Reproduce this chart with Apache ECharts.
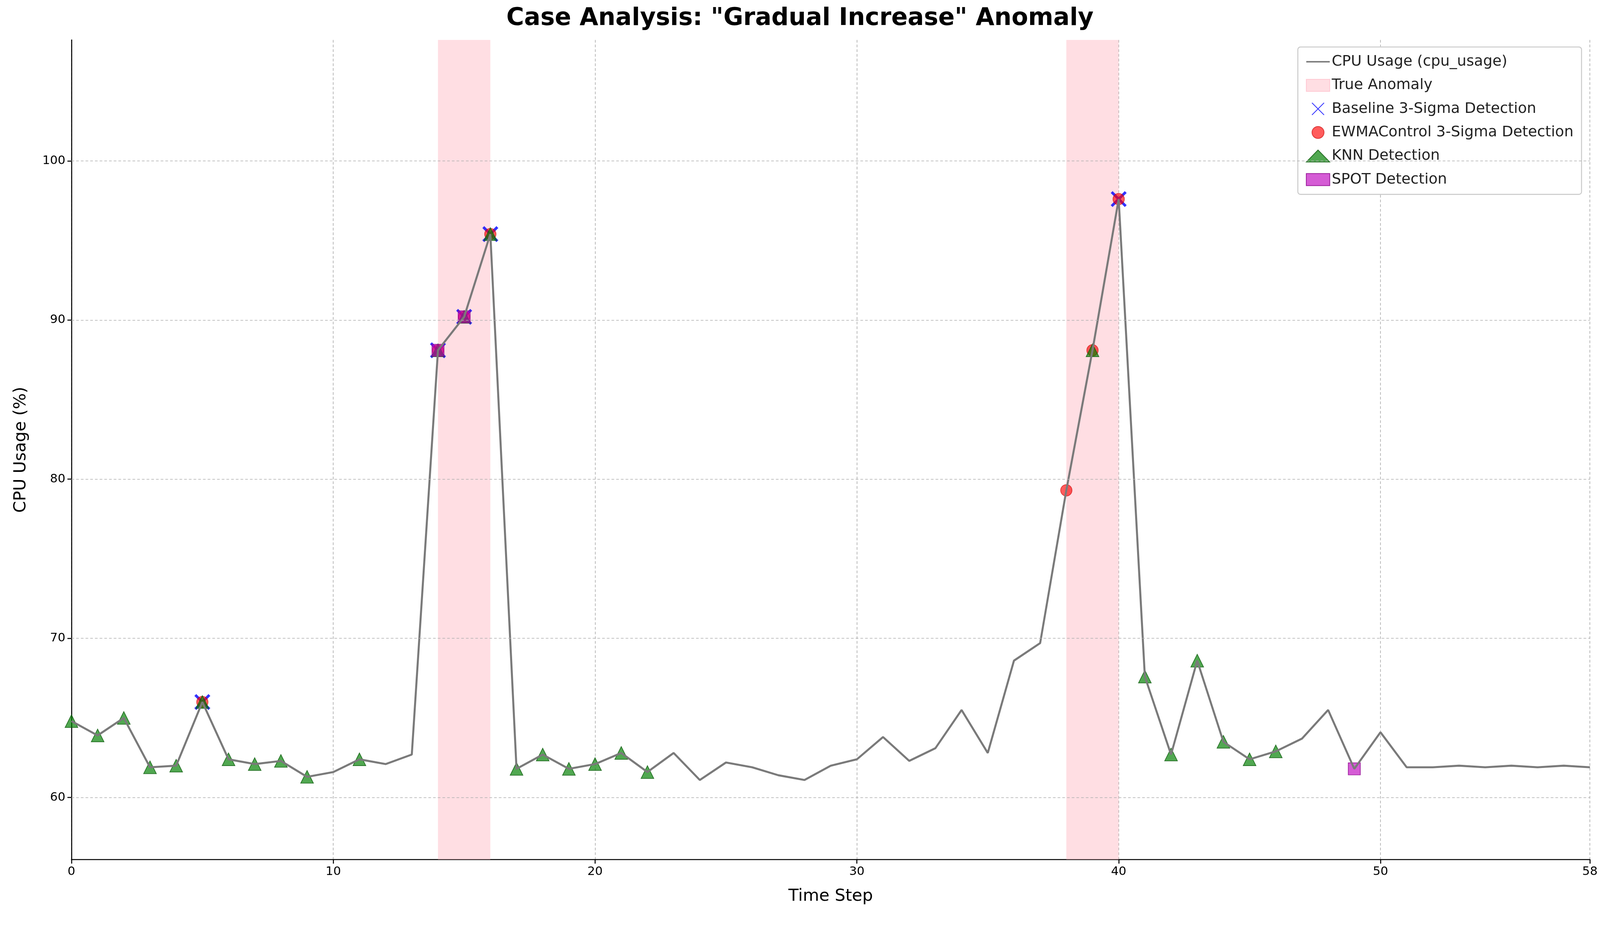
<!DOCTYPE html>
<html><head><meta charset="utf-8">
<script src="https://cdn.jsdelivr.net/npm/echarts@6/dist/echarts.min.js"></script>
<style>html,body{margin:0;padding:0;background:#fff;overflow:hidden}#c{width:100vw;height:100vh}</style>
</head><body><div id="c"></div>
<script>
var cpuUsage = [64.8, 63.9, 65.0, 61.9, 62.0, 66.0, 62.4, 62.1, 62.3, 61.3,
  61.6, 62.4, 62.1, 62.7, 88.1, 90.2, 95.4, 61.8, 62.7, 61.8,
  62.1, 62.8, 61.6, 62.8, 61.1, 62.2, 61.9, 61.4, 61.1, 62.0,
  62.4, 63.8, 62.3, 63.1, 65.5, 62.8, 68.6, 69.7, 79.3, 88.1,
  97.6, 67.6, 62.7, 68.6, 63.5, 62.4, 62.9, 63.7, 65.5, 61.8,
  64.1, 61.9, 61.9, 62.0, 61.9, 62.0, 61.9, 62.0, 61.9];
var anomalyRanges = [[14, 16], [38, 40]];
var baselineIdx = [5, 14, 15, 16, 40];
var ewmaIdx = [5, 14, 15, 16, 38, 39, 40];
var knnIdx = [0, 1, 2, 3, 4, 5, 6, 7, 8, 9, 11, 14, 15, 16, 17, 18, 19, 20, 21, 22, 39, 41, 42, 43, 44, 45, 46];
var spotIdx = [14, 15, 49];
var yTicks = [60, 70, 80, 90, 100];

function pts(idx) {
    return idx.map(function (i) { return [i, cpuUsage[i]]; });
}

var el = document.getElementById('c');
var s = el.clientWidth / 4770;
function p(v) { return v * s; }

var chart = echarts.init(el);
var xPath = 'path://M0,0L10,10M10,0L0,10';
var font = 'DejaVu Sans';

chart.setOption({
    animation: false,
    textStyle: {fontFamily: font},
    title: {
        text: 'Case Analysis: "Gradual Increase" Anomaly',
        left: 'center', top: p(14),
        textStyle: {fontSize: p(72), fontWeight: 'bold', color: '#000', fontFamily: font}
    },
    grid: {left: p(213), right: p(30), top: p(119), bottom: p(195)},
    legend: {
        orient: 'vertical', right: p(55), top: p(140),
        align: 'left',
        backgroundColor: '#fff', borderColor: '#ccc', borderWidth: p(3), borderRadius: p(8),
        padding: [p(22), p(24), p(22), p(24)], itemGap: p(26), itemWidth: p(70), itemHeight: p(36),
        textStyle: {fontSize: p(44), color: '#222', fontFamily: font},
        data: [
            {name: 'CPU Usage (cpu_usage)', icon: 'path://M0,0L20,0L20,1.2L0,1.2Z', itemStyle: {color: '#7a7a7a'}},
            {name: 'True Anomaly', icon: 'rect', itemStyle: {color: 'rgba(255,182,193,0.45)', borderColor: 'rgba(255,150,170,0.4)', borderWidth: 2}},
            {name: 'Baseline 3-Sigma Detection'},
            {name: 'EWMAControl 3-Sigma Detection'},
            {name: 'KNN Detection'},
            {name: 'SPOT Detection'}
        ]
    },
    xAxis: {
        type: 'value', min: 0, max: 58, interval: 10,
        name: 'Time Step', nameLocation: 'middle', nameGap: p(85),
        nameTextStyle: {fontSize: p(50), color: '#000', fontFamily: font},
        axisLine: {lineStyle: {color: '#000', width: p(3)}},
        axisTick: {show: true, length: p(12), lineStyle: {color: '#000', width: p(3)}},
        axisLabel: {fontSize: p(36), color: '#000', margin: p(18), fontFamily: font},
        splitLine: {show: true, lineStyle: {color: '#b0b0b0', type: [p(8), p(6)], width: p(2)}}
    },
    yAxis: {
        type: 'value', min: 56.1, max: 107.6,
        name: 'CPU Usage (%)', nameLocation: 'middle', nameGap: p(125),
        nameTextStyle: {fontSize: p(50), color: '#000', fontFamily: font},
        axisLine: {show: true, lineStyle: {color: '#000', width: p(3)}},
        axisTick: {show: true, length: p(12), customValues: yTicks, lineStyle: {color: '#000', width: p(3)}},
        axisLabel: {fontSize: p(36), color: '#000', margin: p(18), customValues: yTicks, fontFamily: font},
        splitLine: {show: false}
    },
    series: [
        {
            name: 'True Anomaly', type: 'line', data: [], silent: true,
            itemStyle: {color: 'rgba(255,182,193,0.45)'},
            markArea: {
                silent: true,
                itemStyle: {color: 'rgba(255,182,193,0.45)'},
                data: anomalyRanges.map(function (r) { return [{xAxis: r[0]}, {xAxis: r[1]}]; })
            },
            markLine: {
                silent: true, symbol: 'none', label: {show: false},
                lineStyle: {color: '#b0b0b0', type: [p(8), p(6)], width: p(2)},
                data: yTicks.map(function (v) { return {yAxis: v}; })
            }
        },
        {
            name: 'CPU Usage (cpu_usage)', type: 'line', showSymbol: false,
            data: cpuUsage.map(function (v, i) { return [i, v]; }),
            lineStyle: {color: '#7a7a7a', width: p(6)}, itemStyle: {color: '#7a7a7a'}
        },
        {
            name: 'Baseline 3-Sigma Detection', type: 'scatter', symbol: xPath, symbolSize: p(42),
            data: pts(baselineIdx),
            itemStyle: {color: 'rgba(0,0,0,0)', borderColor: '#0000ff', borderWidth: p(8)}
        },
        {
            name: 'EWMAControl 3-Sigma Detection', type: 'scatter', symbol: 'circle', symbolSize: p(34),
            data: pts(ewmaIdx),
            itemStyle: {color: 'rgba(255,0,0,0.8)', borderColor: 'rgba(200,0,0,0.8)', borderWidth: p(2)}
        },
        {
            name: 'KNN Detection', type: 'scatter', symbol: 'triangle', symbolSize: p(38),
            data: pts(knnIdx),
            itemStyle: {color: 'rgba(0,128,0,0.85)', borderColor: '#0a5a0a', borderWidth: p(2)}
        },
        {
            name: 'SPOT Detection', type: 'scatter', symbol: 'rect', symbolSize: p(36),
            data: pts(spotIdx),
            itemStyle: {color: 'rgba(190,0,190,0.8)', borderColor: '#8a008a', borderWidth: p(2)}
        }
    ]
});
</script>
</body></html>
